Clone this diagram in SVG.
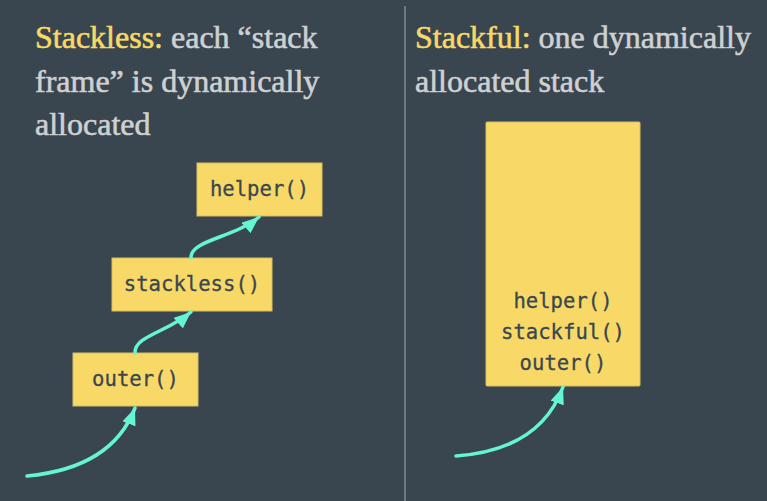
<svg xmlns="http://www.w3.org/2000/svg" width="767" height="501" viewBox="0 0 767 501">
<style>
.title{font-family:"Liberation Serif",serif;font-size:32px;fill:#cfd0d2;stroke:#cfd0d2;stroke-width:0.6}
.hl{fill:#f8d966;stroke:#f8d966}
.box{fill:#f8d967;stroke:#d9bd5c;stroke-width:1}
.code{font-family:"DejaVu Sans Mono",monospace;font-size:20.6px;fill:#3a4750;stroke:#3a4750;stroke-width:0.3;text-anchor:middle}
.conn{fill:none;stroke:#66f5d2;stroke-width:3.5;stroke-linecap:round}
</style>
<defs>
<marker id="ah" markerUnits="userSpaceOnUse" markerWidth="18" markerHeight="14" refX="17" refY="7" orient="auto" viewBox="0 0 18 14">
<path d="M0,0 L17,7 L0,14 z" fill="#66f5d2"/>
</marker>
</defs>
<rect width="767" height="501" fill="#39464f"/>
<line x1="405" y1="6" x2="405" y2="501" stroke="#6e7880" stroke-width="2"/>
<g id="title-left">
<text class="title" x="35" y="48"><tspan class="hl">Stackless:</tspan> each “stack</text>
<text class="title" x="35" y="92">frame” is dynamically</text>
<text class="title" x="35" y="135">allocated</text>
</g>
<g id="title-right">
<text class="title" x="415" y="48"><tspan class="hl">Stackful:</tspan> one dynamically</text>
<text class="title" x="415" y="92">allocated stack</text>
</g>
<g id="node-helper">
<rect class="box" x="197" y="163" width="125" height="53"/>
<text class="code" x="259.5" y="196">helper()</text>
</g>
<g id="node-stackless">
<rect class="box" x="112" y="258" width="160" height="53"/>
<text class="code" x="192" y="291">stackless()</text>
</g>
<g id="node-outer">
<rect class="box" x="73" y="353" width="125" height="53"/>
<text class="code" x="135.5" y="386">outer()</text>
</g>
<g id="node-stack">
<rect class="box" x="486" y="122" width="154" height="264" rx="1"/>
<text class="code" x="563" y="308">helper()</text>
<text class="code" x="563" y="339">stackful()</text>
<text class="code" x="563" y="370">outer()</text>
</g>
<g id="connectors">
<path class="conn" d="M27,476 Q112,468 135,408" marker-end="url(#ah)"/>
<path class="conn" d="M135,353 C134,336 168,332 191,312" marker-end="url(#ah)"/>
<path class="conn" d="M191,258 C190,240 234,238 259,217" marker-end="url(#ah)"/>
<path class="conn" d="M456,456 Q540,450 563,387" marker-end="url(#ah)"/>
</g>
</svg>
